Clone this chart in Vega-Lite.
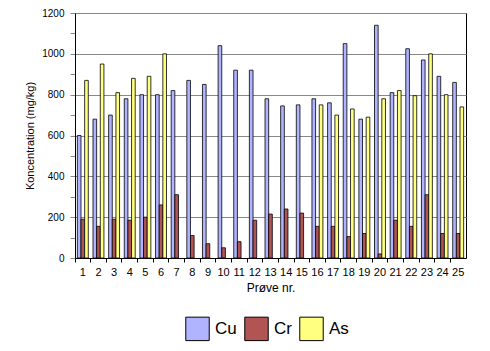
{
  "$schema": "https://vega.github.io/schema/vega-lite/v6.json",
  "width": 391,
  "height": 245,
  "autosize": {"type": "none"},
  "padding": {"left": 75, "top": 13, "right": 24, "bottom": 93},
  "background": "white",
  "config": {
    "font": "Liberation Sans",
    "view": {"stroke": "black", "strokeWidth": 1}
  },
  "data": {
    "values": [
      {"p": 1, "m": "Cu", "v": 600}, {"p": 1, "m": "Cr", "v": 190}, {"p": 1, "m": "As", "v": 870},
      {"p": 2, "m": "Cu", "v": 680}, {"p": 2, "m": "Cr", "v": 155}, {"p": 2, "m": "As", "v": 950},
      {"p": 3, "m": "Cu", "v": 700}, {"p": 3, "m": "Cr", "v": 190}, {"p": 3, "m": "As", "v": 810},
      {"p": 4, "m": "Cu", "v": 780}, {"p": 4, "m": "Cr", "v": 185}, {"p": 4, "m": "As", "v": 880},
      {"p": 5, "m": "Cu", "v": 800}, {"p": 5, "m": "Cr", "v": 200}, {"p": 5, "m": "As", "v": 890},
      {"p": 6, "m": "Cu", "v": 800}, {"p": 6, "m": "Cr", "v": 260}, {"p": 6, "m": "As", "v": 1000},
      {"p": 7, "m": "Cu", "v": 820}, {"p": 7, "m": "Cr", "v": 310},
      {"p": 8, "m": "Cu", "v": 870}, {"p": 8, "m": "Cr", "v": 110},
      {"p": 9, "m": "Cu", "v": 850}, {"p": 9, "m": "Cr", "v": 70},
      {"p": 10, "m": "Cu", "v": 1040}, {"p": 10, "m": "Cr", "v": 50},
      {"p": 11, "m": "Cu", "v": 920}, {"p": 11, "m": "Cr", "v": 80},
      {"p": 12, "m": "Cu", "v": 920}, {"p": 12, "m": "Cr", "v": 185},
      {"p": 13, "m": "Cu", "v": 780}, {"p": 13, "m": "Cr", "v": 215},
      {"p": 14, "m": "Cu", "v": 745}, {"p": 14, "m": "Cr", "v": 240},
      {"p": 15, "m": "Cu", "v": 750}, {"p": 15, "m": "Cr", "v": 220},
      {"p": 16, "m": "Cu", "v": 780}, {"p": 16, "m": "Cr", "v": 155}, {"p": 16, "m": "As", "v": 750},
      {"p": 17, "m": "Cu", "v": 760}, {"p": 17, "m": "Cr", "v": 155}, {"p": 17, "m": "As", "v": 700},
      {"p": 18, "m": "Cu", "v": 1050}, {"p": 18, "m": "Cr", "v": 105}, {"p": 18, "m": "As", "v": 730},
      {"p": 19, "m": "Cu", "v": 680}, {"p": 19, "m": "Cr", "v": 120}, {"p": 19, "m": "As", "v": 690},
      {"p": 20, "m": "Cu", "v": 1140}, {"p": 20, "m": "Cr", "v": 20}, {"p": 20, "m": "As", "v": 780},
      {"p": 21, "m": "Cu", "v": 810}, {"p": 21, "m": "Cr", "v": 185}, {"p": 21, "m": "As", "v": 820},
      {"p": 22, "m": "Cu", "v": 1025}, {"p": 22, "m": "Cr", "v": 155}, {"p": 22, "m": "As", "v": 795},
      {"p": 23, "m": "Cu", "v": 970}, {"p": 23, "m": "Cr", "v": 310}, {"p": 23, "m": "As", "v": 1000},
      {"p": 24, "m": "Cu", "v": 890}, {"p": 24, "m": "Cr", "v": 120}, {"p": 24, "m": "As", "v": 800},
      {"p": 25, "m": "Cu", "v": 860}, {"p": 25, "m": "Cr", "v": 120}, {"p": 25, "m": "As", "v": 740}
    ]
  },
  "mark": {"type": "bar", "stroke": "black", "strokeWidth": 0.8},
  "encoding": {
    "x": {
      "field": "p", "type": "ordinal", "title": "Prøve nr.",
      "scale": {"paddingInner": 0.3, "paddingOuter": 0.15},
      "axis": {
        "labelAngle": 0, "labelFontSize": 11, "labelColor": "black",
        "titleFontSize": 12, "titleFontWeight": "normal", "titleColor": "black", "titlePadding": 5,
        "domainColor": "black", "tickColor": "black", "tickSize": 4,
        "bandPosition": -0.21, "labelOffset": 0, "labelPadding": 4
      }
    },
    "xOffset": {"field": "m", "type": "nominal", "sort": ["Cu", "Cr", "As"], "scale": {"domain": ["Cu", "Cr", "As"], "paddingInner": -0.1}},
    "y": {
      "field": "v", "type": "quantitative", "title": "Koncentration (mg/kg)",
      "scale": {"domain": [0, 1200]},
      "axis": {
        "values": [0, 100, 200, 300, 400, 500, 600, 700, 800, 900, 1000, 1100, 1200],
        "labelExpr": "datum.value % 200 === 0 ? datum.value : ''",
        "grid": true,
        "gridColor": "#888888",
        "gridOpacity": {"condition": {"test": "datum.value % 200 !== 0", "value": 0}, "value": 1},
        "labelFontSize": 10, "labelColor": "black",
        "titleFontSize": 11, "titleFontWeight": "normal", "titleColor": "black",
        "domainColor": "black", "tickColor": "#888888", "tickSize": 5,
        "labelPadding": 6, "titlePadding": 6
      }
    },
    "color": {
      "field": "m", "type": "nominal", "sort": ["Cu", "Cr", "As"],
      "scale": {"domain": ["Cu", "Cr", "As"], "range": ["#B0B4FF", "#B05454", "#FFFF80"]},
      "legend": {
        "title": null, "orient": "none", "direction": "horizontal",
        "legendX": 110, "legendY": 303,
        "symbolType": "square", "symbolSize": 550, "symbolStrokeColor": "black", "symbolStrokeWidth": 1,
        "labelFontSize": 17, "labelColor": "black", "labelOffset": 5, "columnPadding": 5
      }
    }
  }
}
